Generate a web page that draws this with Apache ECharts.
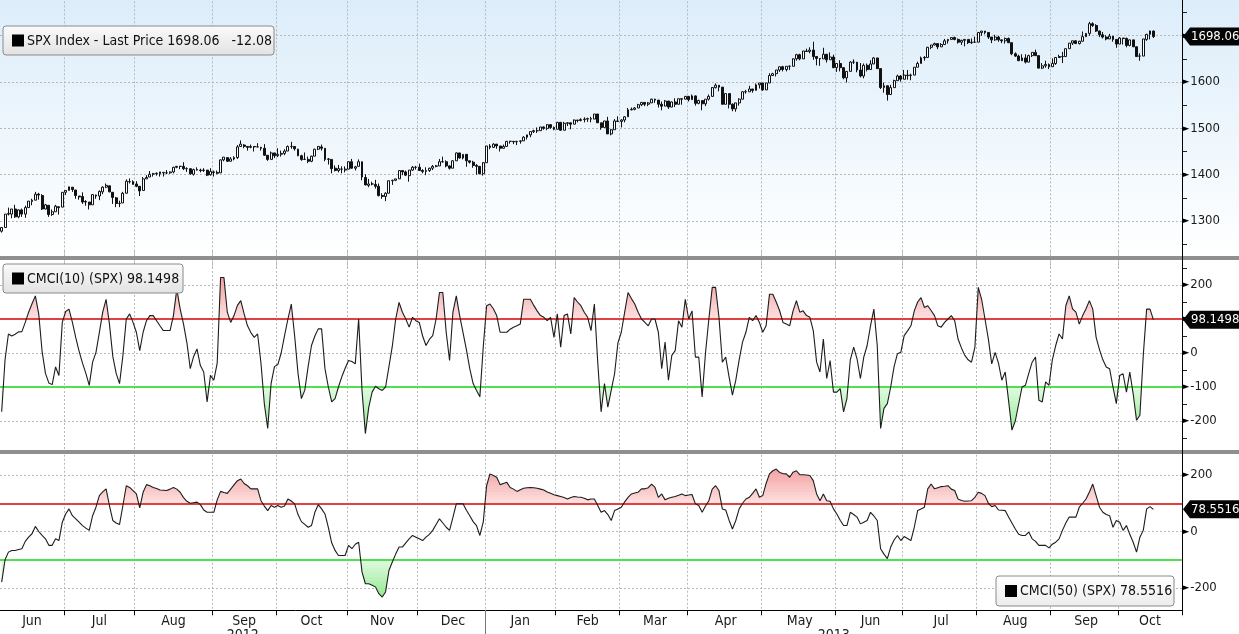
<!DOCTYPE html>
<html><head><meta charset="utf-8">
<script src="https://cdn.jsdelivr.net/npm/echarts@6/dist/echarts.min.js"></script>
<style>html,body{margin:0;padding:0;background:#fff;overflow:hidden}#c{width:1239px;height:634px}</style>
</head><body><div id="c"></div><script>
// ---------------- DATA ----------------
const holidays = ['2012-07-04','2012-09-03','2012-10-29','2012-10-30','2012-11-22','2012-12-25','2013-01-01','2013-01-21','2013-02-18','2013-03-29','2013-05-27','2013-07-04','2013-09-02'];
const firstDay = '2012-06-05';
const totalSlots = 351; // 343 trading days + empty space on the right
const monthNames = ['Jan','Feb','Mar','Apr','May','Jun','Jul','Aug','Sep','Oct','Nov','Dec'];

const opens = [
1278,1286,1316,1315,1326,1309,1324,1315,1329,1342,1345,1358,1355,1326,1334,1314,1320,1331,1330,
1362,1366,1373,1367,1354,1353,1342,1341,1335,1356,1354,1363,1373,1376,1362,1350,1338,1339,1360,1385,1385,
1380,1375,1366,1391,1395,1401,1402,1402,1405,1404,1404,1406,1416,1418,1418,1413,1413,1401,1411,1410,1409,1410,1400,
1406,1405,1404,1432,1437,1429,1434,1437,1461,1464,1461,1459,1461,1460,1459,1457,1442,1433,1447,
1441,1444,1446,1451,1461,1461,1455,1441,1433,1433,1429,1440,1455,1460,1457,1433,1433,1414,1409,1412,1410,
1412,1428,1414,1418,1428,1394,1377,1380,1379,1375,1355,1353,1360,1387,1388,1391,1409,1406,1398,1410,1416,
1416,1409,1407,1409,1414,1418,1419,1428,1428,1419,1414,1430,1447,1436,1444,1430,1427,1420,1418,1402,
1426,1462,1459,1466,1462,1457,1461,1472,1472,1471,1472,1473,1481,1486,1493,1495,1495,1503,1500,1508,1502,
1498,1513,1496,1511,1512,1509,1518,1517,1519,1520,1521,1520,1531,1512,1502,1516,1488,1497,1516,
1515,1518,1525,1540,1541,1544,1551,1556,1552,1555,1563,1561,1552,1548,1559,1546,1557,1552,1564,1563,
1569,1562,1570,1554,1560,1553,1563,1569,1588,1593,1589,1552,1575,1552,1542,1555,1563,1579,1579,1585,1582,1594,
1598,1583,1598,1614,1618,1626,1633,1627,1634,1634,1650,1659,1650,1667,1666,1669,1655,1651,1650,1660,1648,1654,
1631,1640,1631,1609,1623,1643,1643,1626,1613,1636,1627,1639,1652,1629,1588,1592,1573,1588,1603,1613,
1606,1615,1614,1615,1632,1640,1652,1653,1675,1680,1683,1676,1681,1689,1692,1696,1692,1686,1690,1692,1685,1686,
1686,1707,1710,1707,1697,1691,1697,1691,1689,1694,1685,1661,1656,1646,1652,1643,1657,1664,1657,1630,1635,1638,
1633,1640,1653,1655,1655,1672,1684,1689,1683,1688,1698,1705,1726,1722,1710,1702,1697,1693,1699,1692,
1682,1695,1694,1679,1691,1676,1656,1656,1692,1703,1710];
const highs = [
1287,1315,1329,1326,1335,1325,1327,1333,1343,1348,1363,1361,1358,1337,1334,1325,1335,1331,1362,
1366,1374,1373,1367,1354,1362,1345,1341,1358,1357,1366,1375,1381,1376,1362,1352,1344,1363,1390,1392,1388,
1386,1375,1395,1399,1408,1404,1405,1406,1405,1410,1407,1417,1419,1419,1427,1416,1413,1413,1416,1413,1414,1410,1414,
1409,1409,1433,1438,1438,1438,1440,1464,1474,1466,1461,1465,1461,1468,1460,1466,1442,1450,1447,
1457,1452,1455,1463,1471,1461,1456,1443,1448,1439,1441,1456,1462,1465,1457,1436,1433,1420,1421,1418,1418,
1429,1434,1419,1433,1428,1401,1391,1385,1389,1381,1360,1362,1387,1389,1391,1409,1409,1409,1410,1419,1419,
1424,1412,1416,1415,1421,1421,1434,1439,1431,1420,1431,1448,1447,1444,1444,1430,1430,1423,1418,1427,
1462,1466,1468,1466,1462,1465,1473,1473,1472,1473,1474,1483,1486,1493,1497,1502,1503,1504,1509,1509,1504,
1514,1513,1514,1513,1512,1519,1518,1522,1524,1523,1525,1531,1531,1512,1516,1525,1499,1520,1526,
1520,1526,1544,1545,1546,1553,1557,1556,1557,1564,1564,1561,1558,1561,1559,1558,1565,1564,1564,1570,
1570,1573,1571,1562,1560,1563,1573,1589,1597,1593,1589,1575,1575,1554,1555,1565,1580,1583,1592,1585,1597,1598,
1598,1598,1619,1620,1626,1633,1635,1634,1636,1651,1661,1661,1667,1672,1675,1687,1655,1651,1674,1660,1664,1659,
1641,1647,1632,1623,1645,1649,1643,1641,1640,1640,1647,1654,1652,1629,1599,1592,1594,1605,1616,1615,
1626,1626,1618,1632,1644,1655,1656,1676,1680,1685,1683,1684,1693,1693,1697,1698,1694,1691,1692,1692,1694,1698,
1707,1710,1710,1707,1697,1702,1700,1691,1696,1696,1685,1664,1659,1660,1660,1659,1664,1670,1657,1641,1646,1640,
1651,1654,1659,1665,1672,1684,1689,1690,1689,1709,1705,1730,1729,1725,1711,1708,1701,1704,1699,1692,
1697,1695,1696,1691,1691,1677,1662,1693,1704,1711,1711];
const lows = [
1275,1286,1312,1306,1307,1306,1309,1307,1329,1334,1345,1346,1324,1325,1309,1311,1320,1314,1330,
1356,1366,1363,1348,1346,1337,1333,1325,1335,1348,1345,1358,1371,1362,1337,1330,1330,1339,1360,1381,1379,
1373,1354,1366,1391,1395,1396,1398,1396,1396,1401,1402,1403,1414,1412,1410,1406,1400,1398,1409,1405,1406,1397,1398,
1396,1401,1404,1429,1428,1429,1431,1434,1460,1457,1452,1457,1450,1460,1452,1441,1430,1433,1436,
1438,1439,1442,1451,1456,1452,1440,1430,1432,1425,1427,1440,1453,1452,1429,1422,1403,1407,1405,1403,1405,
1412,1413,1409,1418,1388,1377,1373,1377,1370,1353,1348,1343,1360,1378,1386,1391,1399,1397,1385,1408,1411,
1408,1403,1399,1406,1410,1416,1419,1426,1416,1411,1414,1430,1435,1433,1417,1424,1415,1400,1401,1398,
1426,1455,1458,1456,1450,1457,1461,1467,1466,1464,1467,1473,1476,1481,1490,1490,1495,1497,1496,1499,1496,
1498,1495,1496,1505,1498,1509,1513,1515,1513,1514,1513,1520,1512,1497,1502,1488,1485,1497,1514,
1502,1513,1525,1539,1539,1544,1548,1548,1548,1555,1555,1545,1539,1548,1542,1546,1546,1552,1551,1563,
1558,1562,1549,1552,1539,1548,1560,1569,1586,1580,1552,1552,1543,1537,1536,1549,1563,1575,1579,1577,1582,1586,
1581,1583,1598,1613,1612,1622,1623,1623,1626,1634,1646,1647,1650,1666,1662,1648,1636,1635,1650,1642,1648,1630,
1622,1623,1606,1599,1623,1639,1621,1610,1608,1623,1627,1639,1628,1585,1577,1560,1573,1588,1603,1601,
1606,1605,1604,1615,1632,1640,1646,1653,1671,1679,1671,1676,1681,1683,1692,1690,1683,1680,1677,1682,1682,1685,
1686,1700,1703,1693,1684,1689,1687,1684,1683,1684,1658,1654,1646,1646,1640,1643,1654,1656,1630,1628,1631,1628,
1633,1637,1652,1641,1655,1672,1680,1682,1681,1688,1697,1700,1719,1708,1697,1694,1690,1693,1687,1674,
1682,1681,1675,1677,1676,1655,1646,1656,1689,1692,1695];
const closes = [
1286,1315,1315,1326,1309,1324,1315,1329,1343,1345,1358,1356,1326,1335,1314,1320,1332,1329,1362,
1366,1374,1368,1355,1352,1341,1341,1335,1357,1354,1364,1373,1377,1363,1351,1338,1338,1360,1386,1385,1379,
1375,1365,1391,1394,1401,1402,1403,1406,1404,1404,1406,1416,1418,1418,1413,1413,1402,1411,1410,1409,1410,1399,1407,
1405,1403,1432,1438,1429,1434,1437,1460,1466,1461,1459,1461,1460,1460,1457,1442,1433,1447,1441,
1444,1446,1451,1461,1461,1456,1441,1433,1433,1429,1440,1455,1461,1457,1433,1434,1413,1409,1413,1412,1412,
1428,1414,1417,1428,1395,1378,1380,1380,1375,1355,1353,1360,1387,1388,1391,1409,1406,1399,1410,1416,1416,
1409,1407,1409,1414,1418,1419,1428,1428,1419,1414,1430,1447,1436,1444,1430,1427,1420,1418,1402,1426,
1462,1459,1466,1462,1457,1461,1472,1472,1471,1472,1473,1481,1486,1493,1495,1495,1503,1500,1508,1502,1498,
1513,1496,1511,1512,1509,1518,1517,1519,1520,1521,1520,1531,1512,1502,1516,1488,1497,1516,1515,
1518,1525,1540,1541,1544,1551,1556,1552,1555,1563,1561,1552,1548,1559,1546,1557,1552,1564,1563,1569,
1562,1570,1554,1560,1553,1563,1569,1588,1593,1589,1552,1575,1552,1542,1555,1563,1579,1579,1585,1582,1594,1598,
1583,1598,1614,1618,1626,1633,1627,1634,1634,1650,1659,1650,1667,1666,1669,1655,1651,1650,1660,1648,1654,1631,
1640,1631,1609,1623,1643,1643,1626,1613,1636,1627,1639,1652,1629,1588,1592,1573,1588,1603,1613,1606,
1615,1614,1615,1632,1640,1652,1653,1675,1680,1683,1676,1681,1689,1692,1696,1692,1686,1690,1692,1685,1686,1686,
1707,1710,1707,1697,1691,1697,1691,1689,1694,1685,1661,1656,1646,1652,1643,1657,1664,1657,1630,1635,1638,1633,
1640,1653,1655,1655,1672,1684,1689,1683,1688,1698,1705,1726,1722,1710,1702,1697,1693,1699,1692,1682,
1695,1694,1679,1691,1676,1655,1656,1693,1703,1710.14,1698.06];

const cmci10 = [
-173,-20,56,50,55,62,63,90,120,145,
168,115,5,-60,-88,-93,-41,-66,90,122,
129,90,45,5,-30,-60,-95,-27,2,60,
120,158,85,-10,-60,-90,-7,100,115,90,
61,7,61,95,110,110,95,80,66,66,
66,110,188,130,85,30,-46,-10,12,-37,
-56,-144,-66,-80,-30,222,222,120,90,110,
140,154,115,80,60,46,56,-30,-150,-222,
-90,-40,-34,0,51,100,144,50,-60,-134,
-110,-40,22,50,71,71,-46,-100,-144,-134,
-100,-70,-45,-22,-25,-32,100,-110,-237,-160,
-115,-98,-105,-110,-100,-40,20,100,149,120,
100,76,105,95,90,50,22,40,51,100,
178,178,61,-22,120,168,110,60,10,-46,
-90,-110,-129,17,139,144,130,110,61,61,
61,70,76,80,85,158,158,158,140,124,
110,105,95,105,46,115,17,110,115,56,
163,150,139,120,105,66,144,-27,-173,-90,
-159,-110,-61,30,61,120,178,160,144,120,
100,90,80,100,100,61,-46,32,-80,-7,
7,95,76,158,100,124,-12,-12,-129,0,
100,193,193,105,-27,-12,-70,-124,-80,-20,
32,61,105,95,110,90,61,80,173,173,
150,125,90,85,80,124,154,120,124,110,
105,66,-27,-56,41,-75,-22,-115,-115,-105,
-173,-134,-20,17,-17,-75,-12,22,80,129,
22,-222,-163,-149,-100,-40,-2,2,51,65,
80,124,150,163,134,139,125,110,80,76,
90,100,110,95,41,15,-7,-20,-27,17,
193,158,100,41,-32,2,-30,-80,-56,-140,
-227,-200,-150,-100,-95,-60,-27,-12,-139,-144,
-85,-95,-20,22,56,41,139,168,130,120,
85,110,130,154,129,46,10,-20,-41,-46,
-100,-149,-66,-61,-115,-56,-120,-198,-183,-7,
129,129,98.1498];

const cmci50 = [
-179,-100,-73,-67,-67,-64,-61,-35,-20,-8,
18,0,-14,-26,-49,-49,-26,-32,33,62,
80,56,45,33,21,12,4,56,86,127,
140,151,92,39,30,25,92,162,156,145,
133,84,139,166,162,156,152,147,146,145,
150,156,150,139,120,107,100,102,104,95,
76,68,68,68,112,142,138,135,150,165,
180,186,170,162,151,151,151,109,90,74,
92,86,92,86,90,115,108,98,60,35,
25,15,21,68,95,80,62,15,-40,-67,
-85,-85,-85,-49,-61,-45,-38,-143,-185,-185,
-190,-196,-220,-232,-214,-138,-108,-80,-55,-55,
-40,-26,-14,-20,-26,-32,-20,-10,4,25,
45,30,15,4,50,98,98,98,75,56,
35,21,-14,33,162,204,198,192,166,170,
174,156,150,142,148,153,155,156,155,153,
150,147,140,135,130,127,124,120,115,120,
124,122,121,118,112,115,115,92,68,74,
60,39,74,80,86,105,121,133,136,139,
151,151,155,168,156,121,133,112,118,121,
124,128,133,127,129,131,98,92,68,90,
109,150,162,145,80,76,40,9,39,80,
100,115,121,135,151,121,127,170,204,215,
221,209,205,204,192,210,215,201,201,200,
198,180,133,109,133,109,107,80,62,40,
21,21,68,60,51,27,33,39,68,55,
39,-61,-80,-96,-55,-30,-14,-32,-18,-25,
-32,15,74,80,86,151,168,151,155,159,
160,162,150,145,115,110,107,108,109,121,
139,135,127,100,88,92,76,75,74,51,
30,9,-10,-14,-14,-2,-26,-35,-49,-49,
-49,-58,-45,-38,-26,4,30,51,51,51,
86,100,115,140,168,127,86,68,60,56,
15,39,33,4,21,-10,-38,-73,-20,4,
80,88,78.5516];

const lastPrice = 1698.06, priceChange = -12.08;
const cmci10Last = '98.1498', cmci50Last = '78.5516';
const priceLabels = [1300,1400,1500,1600,1700];
const cmci10Labels = [-200,-100,0,100,200];
const cmci50Labels = [-200,0,200];
const overbought = 100, oversold = -100;

// ---------------- CATEGORIES ----------------
const dates = [];
{
  const d = new Date(firstDay + 'T00:00:00Z');
  while (dates.length < totalSlots) {
    const wd = d.getUTCDay();
    const s = d.toISOString().slice(0,10);
    if (wd !== 0 && wd !== 6 && !holidays.includes(s)) dates.push(s);
    d.setUTCDate(d.getUTCDate() + 1);
  }
}
const monthStart = new Set(), monthLabelIdx = new Set();
{
  let s = 0;
  for (let i = 1; i <= dates.length; i++) {
    if (i === dates.length || dates[i].slice(0,7) !== dates[i-1].slice(0,7)) {
      monthLabelIdx.add(s + Math.floor((i - s) / 2));
      if (i < dates.length) monthStart.add(i);
      s = i;
    }
  }
}
const candles = closes.map((c, i) => [opens[i], c, lows[i], highs[i]]);

// ---------------- STYLE ----------------
const FONT = "'DejaVu Sans Condensed','DejaVu Sans',sans-serif";
const W = 1239, AX = 1182;
const GRID_COLOR = '#b8b8b8';
const dotted = { color: GRID_COLOR, type: [2, 2], width: 1 };
function mix(a, b, t) {
  t = Math.max(0, Math.min(1, t));
  return 'rgb(' + a.map((v, i) => Math.round(v + (b[i] - v) * t)).join(',') + ')';
}
const pinkLo = [252, 222, 222], pinkHi = [242, 150, 150];
const greenLo = [222, 250, 222], greenHi = [140, 232, 140];
const pieces = [{ gte: oversold, lte: overbought, color: 'rgba(255,255,255,0)' }];
for (let v = 100; v < 260; v += 10) pieces.push({ gt: v, lte: v + 10, color: mix(pinkLo, pinkHi, (v - 100) / 140) });
pieces.push({ gt: 260, color: mix(pinkLo, pinkHi, 1) });
for (let v = -100; v > -260; v -= 10) pieces.push({ gte: v - 10, lt: v, color: mix(greenLo, greenHi, (-100 - v) / 140) });
pieces.push({ lt: -260, color: mix(greenLo, greenHi, 1) });

function yAxisLabel(allowed) {
  return {
    margin: 1,
    formatter: v => allowed.includes(v) ? '{t|\u25BA}' + v : '',
    color: '#1a1a1a', fontFamily: FONT, fontSize: 13,
    rich: { t: { fontSize: 9, color: '#000', padding: [0, 1, 0, 0] } }
  };
}
function xAxisHidden(gi) {
  return {
    type: 'category', gridIndex: gi, data: dates, boundaryGap: true,
    axisLine: { show: false, onZero: false }, axisTick: { show: false }, axisLabel: { show: false },
    splitLine: { show: true, interval: i => monthStart.has(i), lineStyle: dotted }
  };
}
function gridMarks(vals) {
  return {
    z: 1, silent: true, symbol: ['none', 'none'], animation: false,
    label: { show: false }, lineStyle: dotted,
    data: vals.map(v => ({ yAxis: v }))
  };
}
function levelMarks() {
  return {
    z: 3, silent: true, symbol: ['none', 'none'], animation: false, label: { show: false },
    data: [
      { yAxis: overbought, lineStyle: { color: '#e04242', width: 2, type: 'solid' } },
      { yAxis: oversold, lineStyle: { color: '#52e052', width: 2, type: 'solid' } }
    ]
  };
}

const chart = echarts.init(document.getElementById('c'));
chart.setOption({
  animation: false,
  backgroundColor: '#ffffff',
  grid: [
    { left: 0, width: AX, top: -10.63, height: 278.0, outerBoundsMode: 'none' },
    { left: 0, width: AX, top: 251, height: 204, outerBoundsMode: 'none' },
    { left: 0, width: AX, top: 446.75, height: 169.5, outerBoundsMode: 'none' }
  ],
  xAxis: [
    xAxisHidden(0),
    xAxisHidden(1),
    Object.assign(xAxisHidden(2), {
      offset: -6.25,
      axisLine: { show: true, onZero: false, lineStyle: { color: '#000', width: 1 } },
      axisTick: { show: true, interval: i => monthStart.has(i), length: 5, lineStyle: { color: '#000' } },
      axisLabel: {
        show: true, interval: i => monthLabelIdx.has(i), margin: 4,
        formatter: v => monthNames[+v.slice(5, 7) - 1],
        color: '#1a1a1a', fontFamily: FONT, fontSize: 14
      }
    })
  ],
  yAxis: [
    { type: 'value', gridIndex: 0, position: 'right', min: 1200, max: 1800, interval: 100,
      axisLine: { show: false }, axisTick: { show: false }, splitLine: { show: false },
      minorTick: { show: true, splitNumber: 2, length: 5, lineStyle: { color: '#222' } },
      axisLabel: yAxisLabel(priceLabels) },
    { type: 'value', gridIndex: 1, position: 'right', min: -300, max: 300, interval: 100,
      axisLine: { show: false }, axisTick: { show: false }, splitLine: { show: false },
      minorTick: { show: true, splitNumber: 2, length: 5, lineStyle: { color: '#222' } },
      axisLabel: yAxisLabel(cmci10Labels) },
    { type: 'value', gridIndex: 2, position: 'right', min: -300, max: 300, interval: 100,
      axisLine: { show: false }, axisTick: { show: false }, splitLine: { show: false },
      axisLabel: yAxisLabel(cmci50Labels) }
  ],
  visualMap: [{ type: 'piecewise', show: false, seriesIndex: [1, 3], dimension: 1, pieces: pieces }],
  series: [
    { type: 'candlestick', xAxisIndex: 0, yAxisIndex: 0, data: candles, barWidth: 2.4, z: 2,
      itemStyle: { color: '#ffffff', color0: '#111', borderColor: '#111', borderColor0: '#111', borderWidth: 1 },
      markLine: gridMarks(priceLabels) },
    { type: 'line', xAxisIndex: 1, yAxisIndex: 1, data: cmci10, showSymbol: false, symbol: 'none', z: 2,
      lineStyle: { width: 0, opacity: 0 }, areaStyle: { opacity: 1 },
      markLine: gridMarks([-200, 0, 200]) },
    { type: 'line', xAxisIndex: 1, yAxisIndex: 1, data: cmci10, showSymbol: false, symbol: 'none', z: 4,
      lineStyle: { color: '#1c1c1c', width: 1.1 }, markLine: levelMarks() },
    { type: 'line', xAxisIndex: 2, yAxisIndex: 2, data: cmci50, showSymbol: false, symbol: 'none', z: 2,
      lineStyle: { width: 0, opacity: 0 }, areaStyle: { opacity: 1 },
      markLine: gridMarks([-200, 0, 200]) },
    { type: 'line', xAxisIndex: 2, yAxisIndex: 2, data: cmci50, showSymbol: false, symbol: 'none', z: 4,
      lineStyle: { color: '#1c1c1c', width: 1.1 }, markLine: levelMarks() }
  ]
});

// ---------------- OVERLAYS (tags, legends, separators) ----------------
function tag(y, text) {
  return [
    { type: 'polygon', z: 60, shape: { points: [[AX + 1, y], [AX + 8, y - 9], [W, y - 9], [W, y + 9], [AX + 8, y + 9]] },
      style: { fill: '#050505' } },
    { type: 'text', z: 61, x: AX + 9, y: y, style: { text: text, fill: '#fff', font: '13px ' + FONT, textVerticalAlign: 'middle' } }
  ];
}
function legendBox(x, y, w, h, text, light) {
  return [
    { type: 'rect', z: 60, shape: { x: x, y: y, width: w, height: h, r: 3 },
      style: { fill: new echarts.graphic.LinearGradient(0, 0, 0, 1, [
        { offset: 0, color: light ? '#ffffff' : '#fbfbfb' }, { offset: 1, color: light ? '#ececec' : '#e2e2e2' }]),
        stroke: '#8a8a8a', lineWidth: 1 } },
    { type: 'rect', z: 61, shape: { x: x + 9, y: y + h / 2 - 6, width: 12, height: 12 }, style: { fill: '#000' } },
    { type: 'text', z: 61, x: x + 24, y: y + h / 2 + 0.5, style: { text: text, fill: '#111', font: '14px ' + FONT, textVerticalAlign: 'middle' } }
  ];
}
const yPrice = chart.convertToPixel({ yAxisIndex: 0 }, lastPrice);
const y10 = chart.convertToPixel({ yAxisIndex: 1 }, +cmci10Last);
const y50 = chart.convertToPixel({ yAxisIndex: 2 }, +cmci50Last);
const band = AX / dates.length;
const yearIdx = dates.findIndex(d => d.startsWith('2013'));
const yearX = Math.round(chart.convertToPixel({ xAxisIndex: 2 }, dates[yearIdx]) - band / 2) + 0.5;
const x2012 = yearX / 2, x2013 = (yearX + AX) / 2;

chart.setOption({
  graphic: [
    { type: 'rect', z: -10, shape: { x: 0, y: 0, width: W, height: 257 },
      style: { fill: new echarts.graphic.LinearGradient(0, 0, 0, 1, [{ offset: 0, color: '#dcedfa' }, { offset: 1, color: '#ffffff' }]) } },
    { type: 'rect', z: 50, shape: { x: 0, y: 256, width: W, height: 4 }, style: { fill: '#8f8f8f' } },
    { type: 'rect', z: 50, shape: { x: 0, y: 450, width: W, height: 4 }, style: { fill: '#8f8f8f' } },
    { type: 'line', z: 50, shape: { x1: AX + 0.5, y1: 0, x2: AX + 0.5, y2: 610 }, style: { stroke: '#000', lineWidth: 1 } },
    { type: 'line', z: 50, shape: { x1: yearX, y1: 610, x2: yearX, y2: 634 }, style: { stroke: '#777', lineWidth: 1 } },
    { type: 'text', z: 50, x: x2012, y: 628, style: { text: dates[0].slice(0, 4), fill: '#1a1a1a', font: '14px ' + FONT, textAlign: 'center' } },
    { type: 'text', z: 50, x: x2013, y: 628, style: { text: dates[yearIdx].slice(0, 4), fill: '#1a1a1a', font: '14px ' + FONT, textAlign: 'center' } },
    ...tag(yPrice, lastPrice.toFixed(2)),
    ...tag(y10, cmci10Last),
    ...tag(y50, cmci50Last),
    ...legendBox(3, 26, 271, 29, 'SPX Index - Last Price ' + lastPrice.toFixed(2) + '   ' + priceChange.toFixed(2), false),
    ...legendBox(3, 264, 180, 29, 'CMCI(10) (SPX) ' + cmci10Last, false),
    ...legendBox(996, 576, 178, 30, 'CMCI(50) (SPX) ' + cmci50Last, true)
  ]
});
</script></body></html>
